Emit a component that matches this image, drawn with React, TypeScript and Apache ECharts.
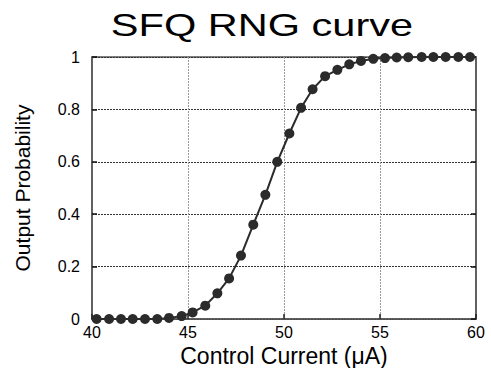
import React, { useEffect, useRef } from "react";
import * as echarts from "echarts";

const currentUA = [
  40.24, 40.89, 41.51, 42.12, 42.76, 43.4, 44.01, 44.67, 45.24, 45.9, 46.53,
  47.14, 47.76, 48.4, 49.03, 49.65, 50.28, 50.89, 51.49, 52.14, 52.78, 53.4,
  54.01, 54.65, 55.26, 55.87, 56.47, 57.17, 57.78, 58.42, 59.08, 59.69,
];
const probability = [
  0, 0, 0, 0, 0, 0, 0.004, 0.011, 0.025, 0.051, 0.098, 0.155, 0.242, 0.36,
  0.474, 0.6, 0.708, 0.806, 0.877, 0.927, 0.951, 0.972, 0.985, 0.993, 0.996,
  0.998, 0.999, 1, 1, 1, 1, 1,
];
const titleText = "SFQ RNG curve";
const xName = "Control Current (\u03bcA)";
const yName = "Output Probability";

const FONT = "'Liberation Sans', Arial, sans-serif";

export default function App() {
  const ref = useRef<HTMLDivElement>(null);
  useEffect(() => {
    if (!ref.current) return;
    const chart = echarts.init(ref.current, undefined, { renderer: "svg" });
    const points = currentUA.map((x, i) => [x, probability[i]]);
    chart.setOption({
      animation: false,
      backgroundColor: "#ffffff",
      textStyle: { fontFamily: FONT },
      graphic: [
        {
          type: "text",
          x: 262,
          y: 25,
          scaleX: 1.34,
          style: {
            text: titleText,
            font: `31px ${FONT}`,
            fill: "#000",
            align: "center",
            verticalAlign: "middle",
          },
        },
      ],
      grid: {
        left: 92,
        right: 15,
        top: 57,
        bottom: 49,
        containLabel: false,
        outerBoundsMode: "none",
        show: true,
        borderColor: "#555",
        borderWidth: 1.5,
        backgroundColor: "transparent",
      },
      xAxis: {
        type: "value",
        min: 40,
        max: 60,
        interval: 5,
        name: xName,
        nameLocation: "middle",
        nameGap: 24,
        nameTextStyle: { fontSize: 23, lineHeight: 23, color: "#000", fontFamily: FONT },
        axisLine: { show: true, lineStyle: { color: "#555", width: 1.5 } },
        axisTick: { show: true, inside: true, length: 5, lineStyle: { color: "#222", width: 1.5 } },
        axisLabel: { fontSize: 16, color: "#000", margin: 5, fontFamily: FONT },
        splitLine: { show: true, lineStyle: { color: "#999", type: [2, 1], width: 1 } },
      },
      yAxis: [
        {
          type: "value",
          min: 0,
          max: 1,
          interval: 0.2,
          name: yName,
          nameLocation: "middle",
          nameGap: 59,
          nameTextStyle: { fontSize: 21, color: "#000", fontFamily: FONT },
          axisLine: { show: true, lineStyle: { color: "#555", width: 1.5 } },
          axisTick: { show: true, inside: true, length: 5, lineStyle: { color: "#111", width: 1.5 } },
          axisLabel: {
            fontSize: 16,
            color: "#000",
            margin: 12,
            fontFamily: FONT,
            formatter: (v: number) => String(Math.round(v * 10) / 10),
          },
          splitLine: { show: true, lineStyle: { color: "#333", type: [2, 1], width: 1 } },
        },
        {
          type: "value",
          min: 0,
          max: 1,
          interval: 0.2,
          position: "right",
          axisLine: { show: true, lineStyle: { color: "#555", width: 1.5 } },
          axisTick: { show: true, inside: true, length: 5, lineStyle: { color: "#111", width: 1.5 } },
          axisLabel: { show: false },
          splitLine: { show: false },
        },
      ],
      series: [
        {
          type: "line",
          data: points,
          yAxisIndex: 0,
          symbol: "circle",
          symbolSize: 10,
          showSymbol: true,
          lineStyle: { color: "#2b2b2b", width: 2 },
          itemStyle: { color: "#2b2b2b" },
          z: 5,
        },
      ],
    });
    return () => chart.dispose();
  }, []);
  return (
    <div
      ref={ref}
      style={{ position: "fixed", left: 0, top: 0, width: 491, height: 368 }}
    />
  );
}
